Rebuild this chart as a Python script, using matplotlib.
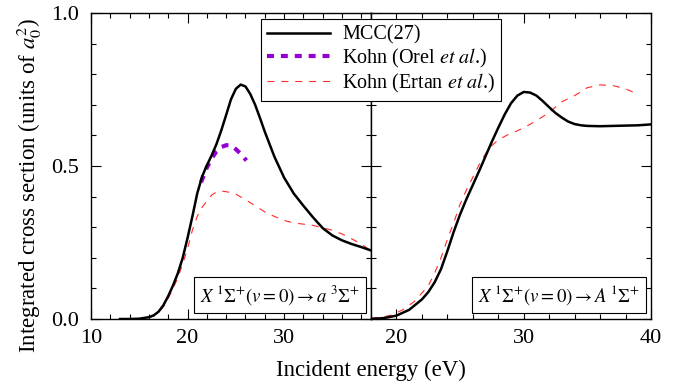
import numpy as np
import matplotlib
matplotlib.use("Agg")
import matplotlib.pyplot as plt
from matplotlib.ticker import MultipleLocator, FormatStrFormatter

plt.rcParams["font.family"] = ["Liberation Serif", "DejaVu Serif"]
plt.rcParams["mathtext.fontset"] = "stix"
plt.rcParams["lines.scale_dashes"] = False

# --- panel (a): X 1Sigma+ (v=0) -> a 3Sigma+ ---
e_mcc_a = [13, 14, 15, 16, 16.5, 17, 17.5, 18, 18.5, 19, 19.5, 20, 20.5, 21, 21.5, 22, 22.5,
           23, 23.5, 24, 24.5, 25, 25.5, 26, 26.5, 27, 27.5, 28, 29, 30, 31, 32, 33, 34, 35,
           36, 37, 38, 39]
s_mcc_a = [0.0, 0.0, 0.001, 0.006, 0.012, 0.024, 0.045, 0.075, 0.11, 0.15, 0.2, 0.265, 0.335,
           0.41, 0.465, 0.502, 0.535, 0.572, 0.617, 0.667, 0.718, 0.752, 0.766, 0.76, 0.735,
           0.7, 0.657, 0.612, 0.53, 0.462, 0.41, 0.37, 0.332, 0.297, 0.273, 0.257, 0.245,
           0.235, 0.224]

e_orel_a = [21.4, 22, 22.5, 23, 23.5, 24, 24.5, 25, 25.5, 26.1]
s_orel_a = [0.447, 0.495, 0.525, 0.548, 0.562, 0.568, 0.567, 0.555, 0.54, 0.518]

e_ertan_a = [16, 16.5, 17, 17.5, 18, 18.5, 19, 19.5, 20, 20.5, 21, 21.5, 22, 22.5, 23, 23.5,
             24, 24.5, 25, 26, 27, 28, 29, 30, 31, 32, 33, 34, 35, 36, 37, 38, 38.9]
s_ertan_a = [0.004, 0.01, 0.022, 0.04, 0.068, 0.1, 0.135, 0.18, 0.23, 0.29, 0.335, 0.365, 0.385,
             0.405, 0.415, 0.418, 0.416, 0.413, 0.408, 0.39, 0.37, 0.35, 0.335, 0.322, 0.314,
             0.31, 0.306, 0.298, 0.29, 0.278, 0.262, 0.245, 0.225]

# --- panel (b): X 1Sigma+ (v=0) -> A 1Sigma+ ---
e_mcc_b = [18, 19, 20, 21, 22, 22.5, 23, 23.5, 24, 24.5, 25, 25.5, 26, 26.5, 27, 27.5, 28,
           28.5, 29, 29.5, 30, 30.5, 31, 31.5, 32, 32.5, 33, 33.5, 34, 34.5, 35, 36, 37, 38,
           39, 40]
s_mcc_b = [0.0, 0.003, 0.011, 0.03, 0.064, 0.088, 0.12, 0.163, 0.222, 0.285, 0.342, 0.392,
           0.438, 0.484, 0.532, 0.58, 0.625, 0.668, 0.705, 0.73, 0.742, 0.74, 0.73, 0.712,
           0.692, 0.673, 0.658, 0.645, 0.637, 0.633, 0.631, 0.63, 0.631, 0.632, 0.633, 0.636]

e_ertan_b = [18, 19, 19.6, 20.5, 21.4, 22, 22.5, 23, 23.5, 24, 24.5, 25, 25.5, 26, 26.5, 27,
             27.5, 28, 28.65, 29, 29.5, 30, 31, 32, 33, 34, 35, 36, 37, 38, 38.8]
s_ertan_b = [0.003, 0.007, 0.013, 0.03, 0.057, 0.085, 0.108, 0.15, 0.2, 0.26, 0.315, 0.375,
             0.422, 0.463, 0.505, 0.54, 0.567, 0.585, 0.6, 0.607, 0.615, 0.625, 0.648, 0.675,
             0.71, 0.73, 0.756, 0.765, 0.763, 0.752, 0.738]

label_mcc = "MCC(27)"
label_orel = "Kohn (Orel $\\mathit{et\\ al}$.)"
label_ertan = "Kohn (Ertan $\\mathit{et\\ al}$.)"
title_a = "$X\\;^1\\Sigma^{+}(v=0)\\rightarrow a\\;^3\\Sigma^{+}$"
title_b = "$X\\;^1\\Sigma^{+}(v=0)\\rightarrow A\\;^1\\Sigma^{+}$"

fig = plt.figure(figsize=(6.9, 3.88), dpi=100)
ax1 = fig.add_axes([91 / 690, 1 - 319 / 388, 280 / 690, 306 / 388])
ax2 = fig.add_axes([371 / 690, 1 - 319 / 388, 280 / 690, 306 / 388])

purple = "#9400D3"
red = "#FF2A2A"

ax1.plot(e_mcc_a, s_mcc_a, color="black", lw=1.8, label=label_mcc, zorder=3)
ax1.plot(e_orel_a, s_orel_a, color=purple, lw=3, dashes=(5, 5), label=label_orel)
ax1.plot(e_ertan_a, s_ertan_a, color=red, lw=0.8, dashes=(5, 5), label=label_ertan)

ax2.plot(e_mcc_b, s_mcc_b, color="black", lw=1.8, zorder=3)
ax2.plot(e_ertan_b, s_ertan_b, color=red, lw=0.8, dashes=(5, 5))

ax1.set_xlim(10, 39)
ax2.set_xlim(18, 40)
for ax in (ax1, ax2):
    ax.set_ylim(0, 1.0)
    ax.xaxis.set_major_locator(MultipleLocator(10))
    ax.xaxis.set_minor_locator(MultipleLocator(2))
    ax.yaxis.set_major_locator(MultipleLocator(0.5))
    ax.yaxis.set_minor_locator(MultipleLocator(0.1))
    ax.tick_params(which="both", direction="in", top=True, right=True, labelsize=16)
    ax.tick_params(which="major", length=7, width=0.8)
    ax.tick_params(which="minor", length=3.5, width=0.8)
    ax.tick_params(axis="x", pad=7)
    ax.tick_params(axis="y", pad=9)
    for sp in ax.spines.values():
        sp.set_linewidth(1.0)

ax1.yaxis.set_major_formatter(FormatStrFormatter("%.1f"))
ax2.tick_params(labelleft=False)

box = dict(boxstyle="square,pad=0.32", fc="white", ec="black", lw=0.8)
ax1.text(0.962, 0.04, title_a, transform=ax1.transAxes, ha="right", va="bottom",
         fontsize=13.5, bbox=box)
ax2.text(0.962, 0.04, title_b, transform=ax2.transAxes, ha="right", va="bottom",
         fontsize=13.5, bbox=box)

leg = fig.legend(loc="upper left", bbox_to_anchor=(261 / 690, 1 - 19 / 388), fontsize=14.5,
                 frameon=True, fancybox=False, framealpha=1, handlelength=3.1,
                 handletextpad=0.6, borderaxespad=0, borderpad=0.32, labelspacing=0.1)
leg.get_frame().set_edgecolor("black")
leg.get_frame().set_linewidth(0.8)

fig.text(371 / 690, 1 - 370 / 388, "Incident energy (eV)", ha="center", va="center",
         fontsize=16.5)
fig.text(29.5 / 690, 1 - 186 / 388, "Integrated cross section (units of $a_0^2$)",
         rotation=90, ha="center", va="center", fontsize=16.5)

fig.savefig("out.png", dpi=100)
